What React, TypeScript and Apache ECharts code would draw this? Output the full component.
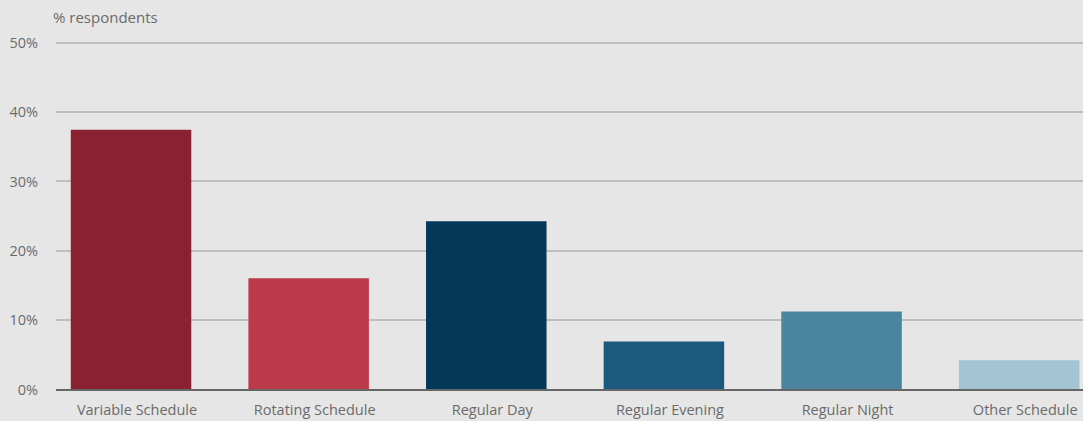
import React, { useEffect, useRef } from "react";
import * as echarts from "echarts";

const categories = [
  "Variable Schedule",
  "Rotating Schedule",
  "Regular Day",
  "Regular Evening",
  "Regular Night",
  "Other Schedule",
];
const values = [37.4, 16.0, 24.2, 6.9, 11.2, 4.2];
const barColors = ["#8a2131", "#bc3a4a", "#033858", "#1b5a7e", "#4b849f", "#a4c4d4"];
const yTicks = [0, 10, 20, 30, 40, 50];

export default function App() {
  const ref = useRef<HTMLDivElement>(null);
  useEffect(() => {
    if (!ref.current) return;
    const chart = echarts.init(ref.current, undefined, { renderer: "svg" });
    const font = "'Open Sans', sans-serif";
    const top = 42.3;
    const bottom = 31.7;
    chart.setOption({
      animation: false,
      backgroundColor: "#e6e6e6",
      title: {
        text: "% respondents",
        left: 48,
        top: 4,
        textStyle: { fontFamily: font, fontSize: 15, fontWeight: "normal", color: "#6b6b6b" },
      },
      grid: [
        { left: 56, right: 25, top, bottom },
        { left: 42.2, right: 0, top, bottom },
      ],
      xAxis: [
        {
          gridIndex: 0,
          type: "value",
          show: false,
        },
        {
          gridIndex: 1,
          type: "category",
          data: categories,
          axisLine: { show: false },
          axisTick: { show: false },
          axisLabel: {
            fontFamily: font,
            fontSize: 14.5,
            color: "#6b6b6b",
            margin: 13,
            padding: [0, 0, 0, 12],
          },
        },
      ],
      yAxis: [
        {
          gridIndex: 0,
          type: "value",
          min: yTicks[0],
          max: yTicks[yTicks.length - 1],
          interval: 10,
          axisLine: { show: false },
          axisTick: { show: false },
          axisLabel: {
            fontFamily: font,
            fontSize: 14.5,
            color: "#6b6b6b",
            margin: 18,
            formatter: (v: number) => v + "%",
          },
          splitLine: { show: true, lineStyle: { color: "#afafaf", width: 1.5 } },
        },
        {
          gridIndex: 1,
          type: "value",
          min: 0,
          max: 50,
          interval: 10,
          show: false,
          splitLine: { show: false },
        },
      ],
      series: [
        {
          type: "bar",
          xAxisIndex: 1,
          yAxisIndex: 1,
          barWidth: 120.5,
          data: values.map((v, i) => ({ value: v, itemStyle: { color: barColors[i] } })),
          z: 2,
        },
        {
          type: "line",
          xAxisIndex: 0,
          yAxisIndex: 0,
          data: [],
          markLine: {
            silent: true,
            symbol: "none",
            label: { show: false },
            lineStyle: { color: "#666666", width: 2, type: "solid" },
            data: [{ yAxis: 0 }],
          },
          z: 3,
        },
      ],
    });
    return () => chart.dispose();
  }, []);
  return (
    <div
      style={{
        position: "fixed",
        left: 0,
        top: 0,
        width: 1083,
        height: 421,
        overflow: "hidden",
        background: "#e6e6e6",
      }}
    >
      <div ref={ref} style={{ width: 1108, height: 421 }} />
    </div>
  );
}
